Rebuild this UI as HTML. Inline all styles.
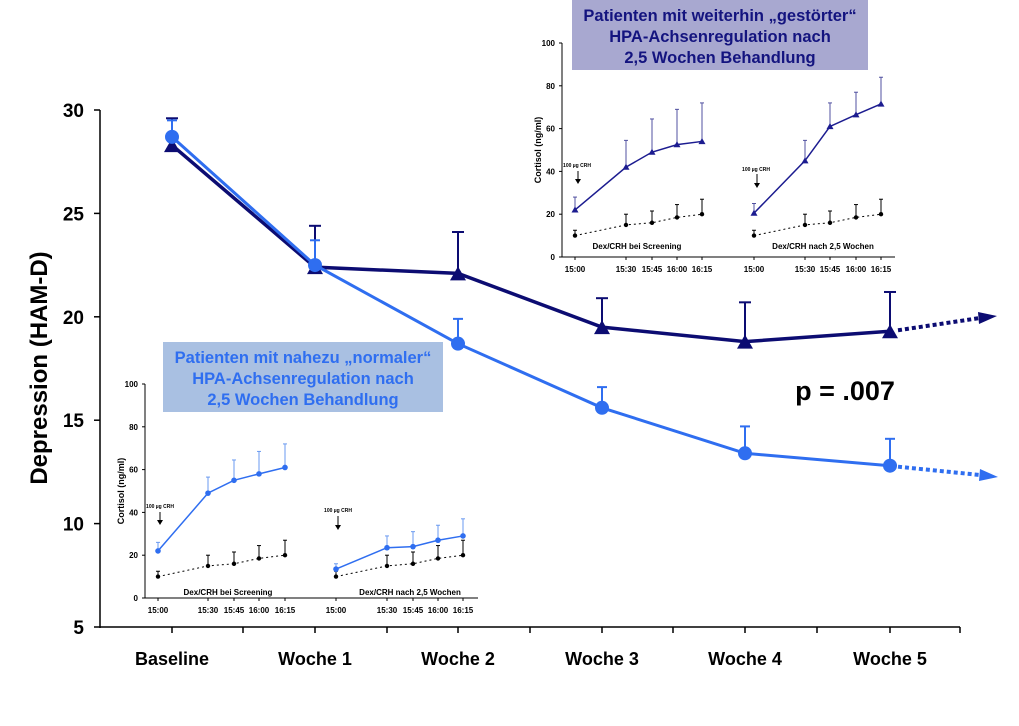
<!DOCTYPE html>
<html><head><meta charset="utf-8"><style>
body{margin:0;background:#fff;width:1019px;height:721px;overflow:hidden}
svg{font-family:"Liberation Sans",Arial,sans-serif}
</style></head><body>
<svg id="s" width="1019" height="721" xmlns="http://www.w3.org/2000/svg">
<rect x="572" y="0" width="296" height="70" fill="#a8a8d0"/>
<text x="720" y="21" text-anchor="middle" font-size="16.5" font-weight="bold" fill="#14147f">Patienten mit weiterhin „gestörter“</text>
<text x="720" y="42" text-anchor="middle" font-size="16.5" font-weight="bold" fill="#14147f">HPA-Achsenregulation nach</text>
<text x="720" y="63" text-anchor="middle" font-size="16.5" font-weight="bold" fill="#14147f">2,5 Wochen Behandlung</text>
<rect x="163" y="342" width="280" height="70" fill="#a9c0e2"/>
<text x="303" y="363" text-anchor="middle" font-size="16.5" font-weight="bold" fill="#2f6ef0">Patienten mit nahezu „normaler“</text>
<text x="303" y="384" text-anchor="middle" font-size="16.5" font-weight="bold" fill="#2f6ef0">HPA-Achsenregulation nach</text>
<text x="303" y="405" text-anchor="middle" font-size="16.5" font-weight="bold" fill="#2f6ef0">2,5 Wochen Behandlung</text>
<text x="845" y="400" text-anchor="middle" font-size="27" font-weight="bold">p = .007</text>
<text transform="translate(47,368) rotate(-90)" text-anchor="middle" font-size="24" font-weight="bold">Depression (HAM-D)</text>
</svg>
<script>
var s=document.getElementById('s'),h='';
function L(x1,y1,x2,y2,c,w,d){h+='<line x1="'+x1+'" y1="'+y1+'" x2="'+x2+'" y2="'+y2+'" stroke="'+c+'" stroke-width="'+w+'"'+(d?' stroke-dasharray="'+d+'"':'')+'/>';}
function P(pts,c,w,d){h+='<polyline points="'+pts.map(p=>p.join(',')).join(' ')+'" fill="none" stroke="'+c+'" stroke-width="'+w+'"'+(d?' stroke-dasharray="'+d+'"':'')+'/>';}
function T(x,y,t,sz,a,c,b){h+='<text x="'+x+'" y="'+y+'" font-size="'+sz+'" text-anchor="'+(a||'middle')+'" fill="'+(c||'#000')+'"'+(b?' font-weight="bold"':'')+'>'+t+'</text>';}
function tri(x,y,r,c){h+='<polygon points="'+x+','+(y-r)+' '+(x-r)+','+(y+r*0.75)+' '+(x+r)+','+(y+r*0.75)+'" fill="'+c+'"/>';}
function dot(x,y,r,c){h+='<circle cx="'+x+'" cy="'+y+'" r="'+r+'" fill="'+c+'"/>';}
var D='#0c0c72',Lb='#2f6ef0';
var Y=v=>110+(30-v)*20.68, X=[172,315,458,602,745,890];
L(100,110,100,628,'#000',1.5);L(100,627,960,627,'#000',1.5);
[30,25,20,15,10,5].forEach(v=>{L(94,Y(v),100,Y(v),'#000',1.5);T(84,Y(v)+7,v,19,'end','#000',1);});
X.concat([243,387,530,673,817,960]).forEach(x=>L(x,627,x,633,'#000',1.5));
['Baseline','Woche 1','Woche 2','Woche 3','Woche 4','Woche 5'].forEach((t,i)=>T(X[i],665,t,18,'middle','#000',1));
var dv=[28.3,22.4,22.1,19.5,18.8,19.3],de=[29.6,24.4,24.1,20.9,20.7,21.2];
var lv=[28.7,22.5,18.7,15.6,13.4,12.8],le=[29.5,23.7,19.9,16.6,14.7,14.1];
var yt=v=>257-2.14*v, xt=[575,626,652,677,702,754,805,830,856,881];
L(562,43,562,257,'#000',1);L(562,257,895,257,'#000',1);
[0,20,40,60,80,100].forEach(v=>{L(559,yt(v),562,yt(v),'#000',1);T(555,yt(v)+3,v,8,'end','#000',1);});
var tl=['15:00','15:30','15:45','16:00','16:15'];
xt.forEach((x,i)=>{L(x,257,x,260,'#000',1);T(x,272,tl[i%5],8,'middle','#000',1);});
T(637,249,'Dex/CRH bei Screening',8,'middle','#000',1);T(823,249,'Dex/CRH nach 2,5 Wochen',8,'middle','#000',1);
T(577,167,'100 µg CRH',5,'middle','#000',1);T(756,171,'100 µg CRH',5,'middle','#000',1);
L(578,171,578,180,'#000',1);h+='<polygon points="575,179 581,179 578,184" fill="#000"/>';
L(757,174,757,184,'#000',1);h+='<polygon points="754,183 760,183 757,188" fill="#000"/>';
var b=[10,15,16,18.5,20],be=[12.5,20,21.5,24.5,27];
var t1=[22,42,49,52.5,54],t1e=[28,54.5,64.5,69,72],t2=[20.5,45,61,66.5,71.5],t2e=[25,54.5,72,77,84];
[[0,t1,t1e],[5,t2,t2e]].forEach(([o,v,e])=>{
 for(var i=0;i<5;i++){var x=xt[o+i];L(x,yt(v[i]),x,yt(e[i]),'#5050a0',1);L(x-2,yt(e[i]),x+2,yt(e[i]),'#5050a0',1);
  L(x,yt(b[i]),x,yt(be[i]),'#000',1);L(x-2,yt(be[i]),x+2,yt(be[i]),'#000',1);}
 P(v.map((a,i)=>[xt[o+i],yt(a)]),'#1c1c90',1.5);
 P(b.map((a,i)=>[xt[o+i],yt(a)]),'#000',1,'2,3');
 for(var i=0;i<5;i++){tri(xt[o+i],yt(v[i]),3.5,'#1c1c90');dot(xt[o+i],yt(b[i]),2.2,'#000');}
});
h+='<text transform="translate(541,150) rotate(-90)" text-anchor="middle" font-size="9" font-weight="bold">Cortisol (ng/ml)</text>';
var yb=v=>598-2.14*v, xb=[158,208,234,259,285,336,387,413,438,463];
L(145,384,145,598,'#000',1);L(145,598,478,598,'#000',1);
[0,20,40,60,80,100].forEach(v=>{L(142,yb(v),145,yb(v),'#000',1);T(138,yb(v)+3,v,8,'end','#000',1);});
xb.forEach((x,i)=>{L(x,598,x,601,'#000',1);T(x,613,tl[i%5],8,'middle','#000',1);});
T(228,595,'Dex/CRH bei Screening',8,'middle','#000',1);T(410,595,'Dex/CRH nach 2,5 Wochen',8,'middle','#000',1);
T(160,508,'100 µg CRH',5,'middle','#000',1);T(338,512,'100 µg CRH',5,'middle','#000',1);
L(160,512,160,521,'#000',1);h+='<polygon points="157,520 163,520 160,525" fill="#000"/>';
L(338,516,338,526,'#000',1);h+='<polygon points="335,525 341,525 338,530" fill="#000"/>';
var l1=[22,49,55,58,61],l1e=[26,56.5,64.5,68.5,72],l2=[13.5,23.5,24,27,29],l2e=[16,29,31,34,37];
[[0,l1,l1e],[5,l2,l2e]].forEach(([o,v,e])=>{
 for(var i=0;i<5;i++){var x=xb[o+i];L(x,yb(b[i]),x,yb(be[i]),'#000',1);L(x-2,yb(be[i]),x+2,yb(be[i]),'#000',1);
  L(x,yb(v[i]),x,yb(e[i]),'#6a9af0',1);L(x-2,yb(e[i]),x+2,yb(e[i]),'#6a9af0',1);}
 P(b.map((a,i)=>[xb[o+i],yb(a)]),'#000',1,'2,3');
 P(v.map((a,i)=>[xb[o+i],yb(a)]),Lb,1.5);
 for(var i=0;i<5;i++){dot(xb[o+i],yb(b[i]),2.2,'#000');dot(xb[o+i],yb(v[i]),2.8,Lb);}
});
h+='<text transform="translate(124,491) rotate(-90)" text-anchor="middle" font-size="9" font-weight="bold">Cortisol (ng/ml)</text>';
for(var i=0;i<6;i++){L(X[i],Y(dv[i]),X[i],Y(de[i]),D,2);L(X[i]-6,Y(de[i]),X[i]+6,Y(de[i]),D,2);
 L(X[i],Y(lv[i]),X[i],Y(le[i]),Lb,2);L(X[i]-5,Y(le[i]),X[i]+5,Y(le[i]),Lb,2);}
P(dv.map((v,i)=>[X[i],Y(v)]),D,3.5);
P(lv.map((v,i)=>[X[i],Y(v)]),Lb,3);
L(898,Y(19.3)-1,980,318,D,4,'4,3');h+='<polygon points="978,312 997,316 979,324" fill="'+D+'"/>';
L(898,Y(12.8)+1,980,475,Lb,4,'4,3');h+='<polygon points="980,469 998,477 979,481" fill="'+Lb+'"/>';
for(var i=0;i<6;i++){tri(X[i],Y(dv[i])+1,8,D);dot(X[i],Y(lv[i]),7,Lb);}
s.insertAdjacentHTML('beforeend',h);
</script>
</body></html>
